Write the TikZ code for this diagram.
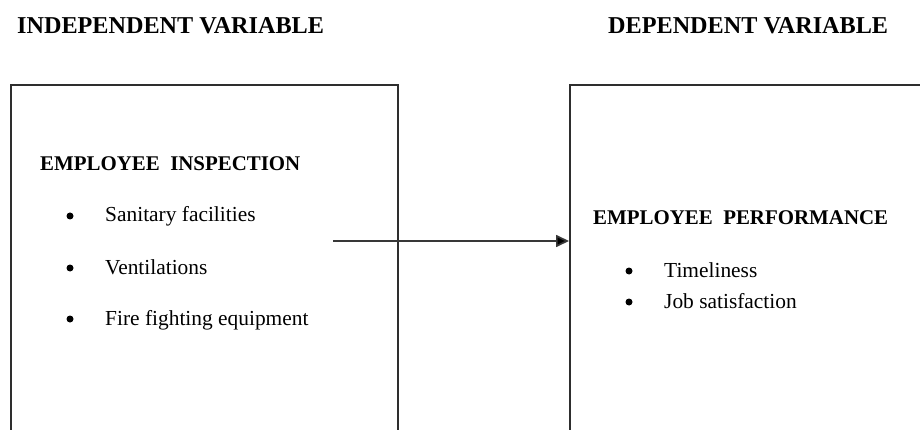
\documentclass[tikz,border=0pt]{standalone}
\usepackage{fontspec}
\setmainfont{Liberation Serif}
\usetikzlibrary{arrows.meta}

\tikzset{
  vartitle/.style={anchor=base west, inner sep=0pt, font=\fontsize{24.2}{28}\selectfont\bfseries},
  heading/.style={anchor=base west, inner sep=0pt, font=\fontsize{20.9}{25}\selectfont\bfseries},
  item/.style={anchor=base west, inner sep=0pt, font=\fontsize{21.4}{25}\selectfont},
  dot/.style={circle, fill=black, inner sep=0pt, minimum size=7pt},
  varbox/.style={draw=black!82, line width=1.6pt, anchor=north west, inner sep=0pt},
  link/.style={draw=black!78, line width=1.7pt, -{Triangle[length=13pt,width=12pt,fill=black]}}
}

\begin{document}
\begin{tikzpicture}[x=1pt,y=-1pt]
  \clip (0,0) rectangle (920,430);
  \fill[white] (0,0) rectangle (920,430);

  % column titles
  \node[vartitle] (ivtitle) at (17,34) {INDEPENDENT VARIABLE};
  \node[vartitle] (dvtitle) at (608,34) {DEPENDENT VARIABLE};

  % the two variable boxes (running past the lower edge)
  \node[varbox, minimum width=387pt, minimum height=400pt] (ivbox) at (10,84) {};
  \node[varbox, minimum width=400pt, minimum height=400pt] (dvbox) at (569,84) {};

  % independent variable contents
  \node[heading] (ivhead) at (40,171) {EMPLOYEE\ \ INSPECTION};
  \node[dot] (ivdot1) at (70,216) {};
  \node[item] (iv1) at (105,222) {Sanitary facilities};
  \node[dot] (ivdot2) at (70,268) {};
  \node[item] (iv2) at (105,274) {Ventilations};
  \node[dot] (ivdot3) at (70,319) {};
  \node[item] (iv3) at (105,325) {Fire fighting equipment};

  % dependent variable contents
  \node[heading] (dvhead) at (593,225) {EMPLOYEE\ \ PERFORMANCE};
  \node[dot] (dvdot1) at (629,271) {};
  \node[item] (dv1) at (664,277) {Timeliness};
  \node[dot] (dvdot2) at (629,302) {};
  \node[item] (dv2) at (664,308) {Job satisfaction};

  % influence arrow
  \coordinate (linkstart) at (333,241);
  \draw[link] (linkstart) -- (dvbox.west |- linkstart);
\end{tikzpicture}
\end{document}
